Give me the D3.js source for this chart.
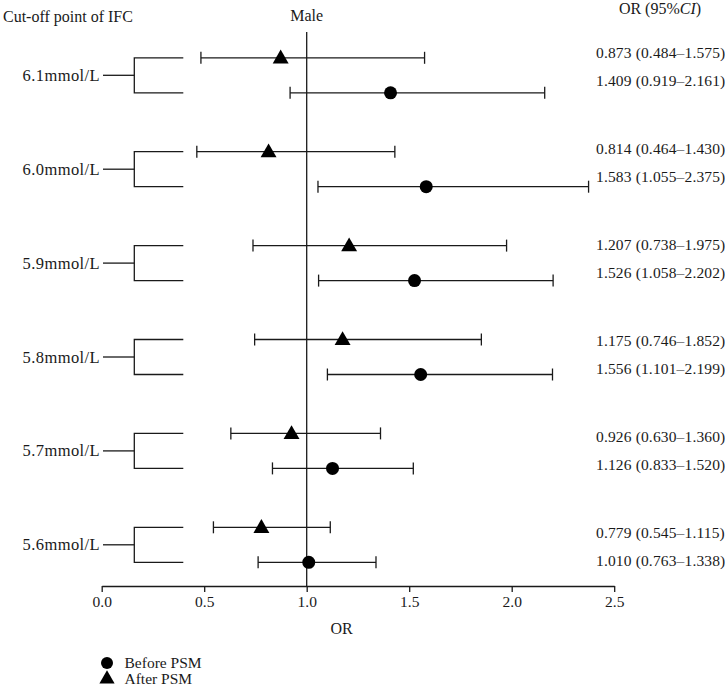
<!DOCTYPE html>
<html><head><meta charset="utf-8">
<script src="https://cdn.jsdelivr.net/npm/d3@7"></script>
<style>
html,body{margin:0;padding:0;background:#fff;}
text{font-family:"Liberation Serif","Times New Roman",serif;fill:#1a1a1a;}
</style></head>
<body>
<svg id="chart" width="725" height="686"></svg>
<script>
const groups = ["6.1mmol/L","6.0mmol/L","5.9mmol/L","5.8mmol/L","5.7mmol/L","5.6mmol/L"];
const afterOR = [0.873,0.814,1.207,1.175,0.926,0.779];
const afterLo = [0.484,0.464,0.738,0.746,0.630,0.545];
const afterHi = [1.575,1.430,1.975,1.852,1.360,1.115];
const beforeOR = [1.409,1.583,1.526,1.556,1.126,1.010];
const beforeLo = [0.919,1.055,1.058,1.101,0.833,0.763];
const beforeHi = [2.161,2.375,2.202,2.199,1.520,1.338];
const xTicks = [0,0.5,1,1.5,2,2.5];
const refValue = 1;
const legendLabels = ["Before PSM","After PSM"];

const svg = d3.select("#chart");
const ink = "#1a1a1a";
const sw = 1.3;

const x = d3.scaleLinear().domain([0,2.5]).range([101.7,614.2]);
const y = d3.scalePoint().domain(groups).range([75.3,544.8]);
const yText = d3.scalePoint().domain(groups).range([53,533]);
const rowOff = 17.5;
const axisY = 586;

// headers
svg.append("text").attr("x",3).attr("y",22).attr("font-size",16).text("Cut-off point of IFC");
svg.append("text").attr("x",x(refValue)).attr("y",21).attr("text-anchor","middle").attr("font-size",16).text("Male");
const hdr = svg.append("text").attr("x",660).attr("y",14).attr("text-anchor","middle").attr("font-size",16);
hdr.append("tspan").text("OR (95%");
hdr.append("tspan").attr("font-style","italic").text("CI");
hdr.append("tspan").text(")");

// reference line
svg.append("line").attr("x1",x(refValue)).attr("x2",x(refValue)).attr("y1",32).attr("y2",axisY)
  .attr("stroke",ink).attr("stroke-width",sw);

// axis
const axis = d3.axisBottom(x).tickValues(xTicks).tickFormat(d3.format(".1f")).tickSize(6).tickSizeOuter(0);
const gAxis = svg.append("g").attr("transform",`translate(0,${axisY})`).call(axis);
gAxis.select(".domain").attr("stroke",ink).attr("stroke-width",sw);
gAxis.selectAll(".tick line").attr("stroke",ink).attr("stroke-width",sw);
gAxis.selectAll(".tick text").attr("font-size",15.5).attr("font-family","Liberation Serif, serif").attr("fill",ink).attr("dy","0.95em").attr("y",6);
svg.append("text").attr("x",x(1.17)).attr("y",634).attr("text-anchor","middle").attr("font-size",16).text("OR");

// group labels and brackets
const g = svg.append("g");
groups.forEach((grp,i)=>{
  const cy = y(grp);
  g.append("text").attr("x",100).attr("y",cy+5.5).attr("text-anchor","end").attr("font-size",16.5).attr("letter-spacing","0.4").text(grp);
  g.append("line").attr("x1",103).attr("x2",134.3).attr("y1",cy).attr("y2",cy).attr("stroke",ink).attr("stroke-width",sw);
  g.append("path").attr("d",`M183.3,${cy-rowOff}H134.3V${cy+rowOff}H183.3`).attr("fill","none").attr("stroke",ink).attr("stroke-width",sw);

  const rows = [
    {yy:cy-rowOff, or:afterOR[i], lo:afterLo[i], hi:afterHi[i], shape:"tri", ty:yText(grp)},
    {yy:cy+rowOff, or:beforeOR[i], lo:beforeLo[i], hi:beforeHi[i], shape:"circ", ty:yText(grp)+28}
  ];
  rows.forEach(r=>{
    g.append("line").attr("x1",x(r.lo)).attr("x2",x(r.hi)).attr("y1",r.yy).attr("y2",r.yy).attr("stroke",ink).attr("stroke-width",sw);
    [r.lo,r.hi].forEach(v=>g.append("line").attr("x1",x(v)).attr("x2",x(v)).attr("y1",r.yy-6).attr("y2",r.yy+6).attr("stroke",ink).attr("stroke-width",sw));
    if(r.shape==="circ"){
      g.append("circle").attr("cx",x(r.or)).attr("cy",r.yy).attr("r",6.5).attr("fill","#000");
    } else {
      g.append("path").attr("d",d3.symbol(d3.symbolTriangle,110)()).attr("transform",`translate(${x(r.or)},${r.yy+1})`).attr("fill","#000");
    }
    const f = d3.format(".3f");
    g.append("text").attr("x",596).attr("y",r.ty+5).attr("font-size",15.5).attr("letter-spacing","0.15")
      .text(`${f(r.or)} (${f(r.lo)}–${f(r.hi)})`);
  });
});

// legend
const leg = svg.append("g");
leg.append("circle").attr("cx",107).attr("cy",663).attr("r",6).attr("fill","#000");
leg.append("text").attr("x",124.5).attr("y",668).attr("font-size",15.5).text(legendLabels[0]);
leg.append("path").attr("d",d3.symbol(d3.symbolTriangle,100)()).attr("transform","translate(107,679)").attr("fill","#000");
leg.append("text").attr("x",124.5).attr("y",683.5).attr("font-size",15.5).text(legendLabels[1]);
</script>
</body></html>
